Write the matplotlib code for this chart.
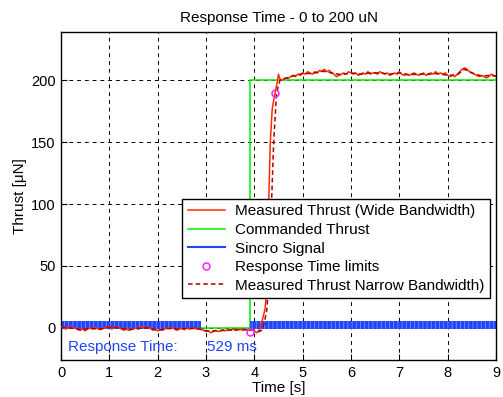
import numpy as np
import matplotlib.pyplot as plt

plt.rcParams['font.family'] = ['Liberation Sans', 'DejaVu Sans']
plt.rcParams['hatch.linewidth'] = 0.5

# Wide bandwidth thrust measurement [s], [uN]
t_wide = [0.00, 0.05, 0.10, 0.15, 0.20, 0.25, 0.30, 0.35, 0.40, 0.45, 0.50, 0.55, 0.60, 0.65,
          0.70, 0.75, 0.80, 0.85, 0.90, 0.95, 1.00, 1.05, 1.10, 1.15, 1.20, 1.25, 1.30, 1.35,
          1.40, 1.45, 1.50, 1.55, 1.60, 1.65, 1.70, 1.75, 1.80, 1.85, 1.90, 1.95, 2.00, 2.05,
          2.10, 2.15, 2.20, 2.25, 2.30, 2.35, 2.40, 2.45, 2.50, 2.55, 2.60, 2.65, 2.70, 2.75,
          2.80, 2.85, 2.90, 2.95, 3.00, 3.05, 3.10, 3.15, 3.20, 3.25, 3.30, 3.35, 3.40, 3.45,
          3.50, 3.55, 3.60, 3.65, 3.70, 3.75, 3.80, 3.85, 3.90, 3.95, 4.00, 4.05, 4.10, 4.15,
          4.19, 4.22, 4.26, 4.28, 4.30, 4.33, 4.37, 4.43, 4.47, 4.50, 4.53, 4.57, 4.62, 4.66,
          4.70, 4.75, 4.80, 4.85, 4.90, 4.95, 5.00, 5.05, 5.10, 5.15, 5.20, 5.25, 5.30, 5.35,
          5.40, 5.45, 5.50, 5.55, 5.60, 5.65, 5.70, 5.75, 5.80, 5.85, 5.90, 5.95, 6.00, 6.05,
          6.10, 6.15, 6.20, 6.25, 6.30, 6.35, 6.40, 6.45, 6.50, 6.55, 6.60, 6.65, 6.70, 6.75,
          6.80, 6.85, 6.90, 6.95, 7.00, 7.05, 7.10, 7.15, 7.20, 7.25, 7.30, 7.35, 7.40, 7.45,
          7.50, 7.55, 7.60, 7.65, 7.70, 7.75, 7.80, 7.85, 7.90, 7.95, 8.00, 8.05, 8.10, 8.15,
          8.20, 8.25, 8.30, 8.35, 8.40, 8.45, 8.50, 8.55, 8.60, 8.65, 8.70, 8.75, 8.80, 8.85,
          8.90, 8.95, 9.00]
f_wide = [1.0, 0.0, -1.0, 0.5, 1.0, -0.5, 0.0, -1.5, -2.0, -1.0, -2.5, -1.0, 0.0, -1.0,
          0.5, -0.5, -1.5, -1.0, 0.0, 1.0, 0.5, -1.0, 0.0, 1.0, 0.0, -1.0, -2.0, -1.0,
          -2.0, -1.5, -1.0, 0.0, -1.0, 0.5, 1.0, 0.0, 0.5, -0.5, -2.0, -1.0, -2.5, -1.5,
          -2.0, -1.0, 0.0, -0.5, 0.5, -1.0, -2.0, -1.0, -0.5, -1.5, 0.0, -1.0, -0.5, 0.0,
          -1.0, -0.5, -1.0, -2.0, -3.0, -2.5, -4.0, -3.0, -2.0, -3.0, -2.5, -1.5, -2.5, -1.5,
          -2.0, -1.0, -2.0, -1.5, -1.0, -2.0, -1.0, -1.5, -2.0, -1.0, -2.5, -4.0, -2.0, 4.0,
          10.0, 15.0, 31.0, 60.0, 106.0, 150.0, 177.0, 190.0, 198.0, 205.0, 201.0, 200.0, 201.5, 202.0,
          201.5, 203.0, 204.0, 203.0, 205.0, 204.0, 206.0, 205.0, 207.0, 206.0, 205.0, 207.0, 206.0, 208.0,
          207.0, 209.0, 207.0, 208.0, 206.0, 205.0, 203.0, 204.0, 205.0, 206.0, 205.0, 207.0, 206.0, 205.0,
          206.0, 204.0, 205.0, 206.0, 205.0, 207.0, 205.0, 206.0, 206.0, 205.0, 207.0, 206.0, 205.0, 206.0,
          204.0, 205.0, 206.0, 205.0, 207.0, 205.0, 204.0, 205.0, 204.0, 205.0, 206.0, 205.0, 204.0, 205.0,
          206.0, 204.0, 205.0, 206.0, 205.0, 207.0, 205.0, 206.0, 205.0, 206.0, 204.0, 203.0, 204.0, 203.0,
          205.0, 207.0, 209.0, 210.0, 209.0, 207.0, 206.0, 205.0, 204.0, 203.0, 204.0, 203.0, 202.0, 203.0,
          205.0, 204.0, 203.0]

# Narrow bandwidth thrust measurement
t_narrow = [0.0, 0.2, 0.4, 0.6, 0.8, 1.0, 1.2, 1.4, 1.6, 1.8, 2.0, 2.2, 2.4, 2.6, 2.8, 3.0,
            3.2, 3.4, 3.6, 3.8, 4.0, 4.1, 4.15, 4.20, 4.26, 4.30, 4.33, 4.36, 4.40, 4.44,
            4.46, 4.53, 4.6, 4.8, 5.0, 5.2, 5.4, 5.6, 5.8, 6.0, 6.2, 6.4, 6.6, 6.8, 7.0,
            7.2, 7.4, 7.6, 7.8, 8.0, 8.2, 8.35, 8.5, 8.7, 8.9, 9.0]
f_narrow = [0.5, 0.0, -1.5, -0.5, -1.0, 0.5, 0.0, -1.5, -0.5, 0.0, -2.0, -0.5, -1.0, -0.5, -0.5, -2.5,
            -2.5, -2.0, -1.5, -1.5, -2.0, -3.0, -2.0, 3.0, 15.0, 40.0, 75.0, 106.0, 150.0, 177.0,
            190.0, 200.0, 201.0, 203.5, 205.5, 205.5, 207.5, 206.0, 204.5, 206.0, 205.0, 206.0, 206.0, 205.0, 206.0,
            204.5, 205.0, 205.0, 205.5, 204.0, 204.5, 209.0, 206.0, 203.5, 204.0, 203.5]

# Commanded thrust step
t_cmd = [0.0, 3.9, 3.9, 9.0]
f_cmd = [0.0, 0.0, 200.0, 200.0]

# Sync signal active intervals and its band limits
sincro_on = [(0.0, 2.9), (3.9, 9.0)]
sincro_low, sincro_high = -0.8, 5.5

# Response time limits (start of command, 95% crossing)
t_limits = [3.9, 4.429]
f_limits = [-3.0, 190.0]
response_ms = 529

fig = plt.figure(figsize=(5.03, 3.97), dpi=100)
ax = fig.add_axes([0.1213, 0.0932, 0.8648, 0.826])

ax.plot(t_wide, f_wide, color='#ff2a00', lw=1.1, label='Measured Thrust (Wide Bandwidth)', zorder=3)
ax.plot(t_cmd, f_cmd, color='#00ee00', lw=1.1, label='Commanded Thrust', zorder=2)
for t0, t1 in sincro_on:
    ax.fill_between([t0, t1], sincro_low, sincro_high, facecolor='#2244ff',
                    edgecolor='#8899ff', hatch='||||', lw=0, zorder=2)
ax.plot([], [], color='#2244ff', lw=1.5, label='Sincro Signal')
ax.plot(t_limits, f_limits, 'o', mfc='none', mec='#ff22ff', ms=5, mew=1.1,
        label='Response Time limits', zorder=5)
ax.plot(t_narrow, f_narrow, '--', color='#aa0000', lw=1.1, dashes=(3, 2),
        label='Measured Thrust Narrow Bandwidth)', zorder=4)

ax.text(0.14, -15.5, 'Response Time:', color='#2244ff', fontsize=11, va='center')
ax.text(3.02, -15.5, f'{response_ms} ms', color='#2244ff', fontsize=11, va='center')

ax.set_xlim(0, 9)
ax.set_ylim(-26, 239)
ax.set_xticks(range(10))
ax.set_yticks([0, 50, 100, 150, 200])
ax.grid(True, color='black', linestyle=(0, (4, 4)), lw=0.7)
ax.tick_params(direction='in', labelsize=10.5, length=4, pad=4)
for s in ax.spines.values():
    s.set_linewidth(1.0)

ax.set_title('Response Time - 0 to 200 uN', fontsize=11, pad=7)
ax.set_xlabel('Time [s]', fontsize=11, labelpad=1)
ax.set_ylabel('Thrust [\u03bcN]', fontsize=11, labelpad=3)

leg = ax.legend(loc='lower right', bbox_to_anchor=(0.986, 0.189), fontsize=11,
                fancybox=False, edgecolor='black', framealpha=1, handlelength=2.4,
                borderpad=0.35, labelspacing=0.3, handletextpad=0.7, borderaxespad=0)
leg.get_frame().set_linewidth(1.0)

fig.savefig('out.png', dpi=100)
